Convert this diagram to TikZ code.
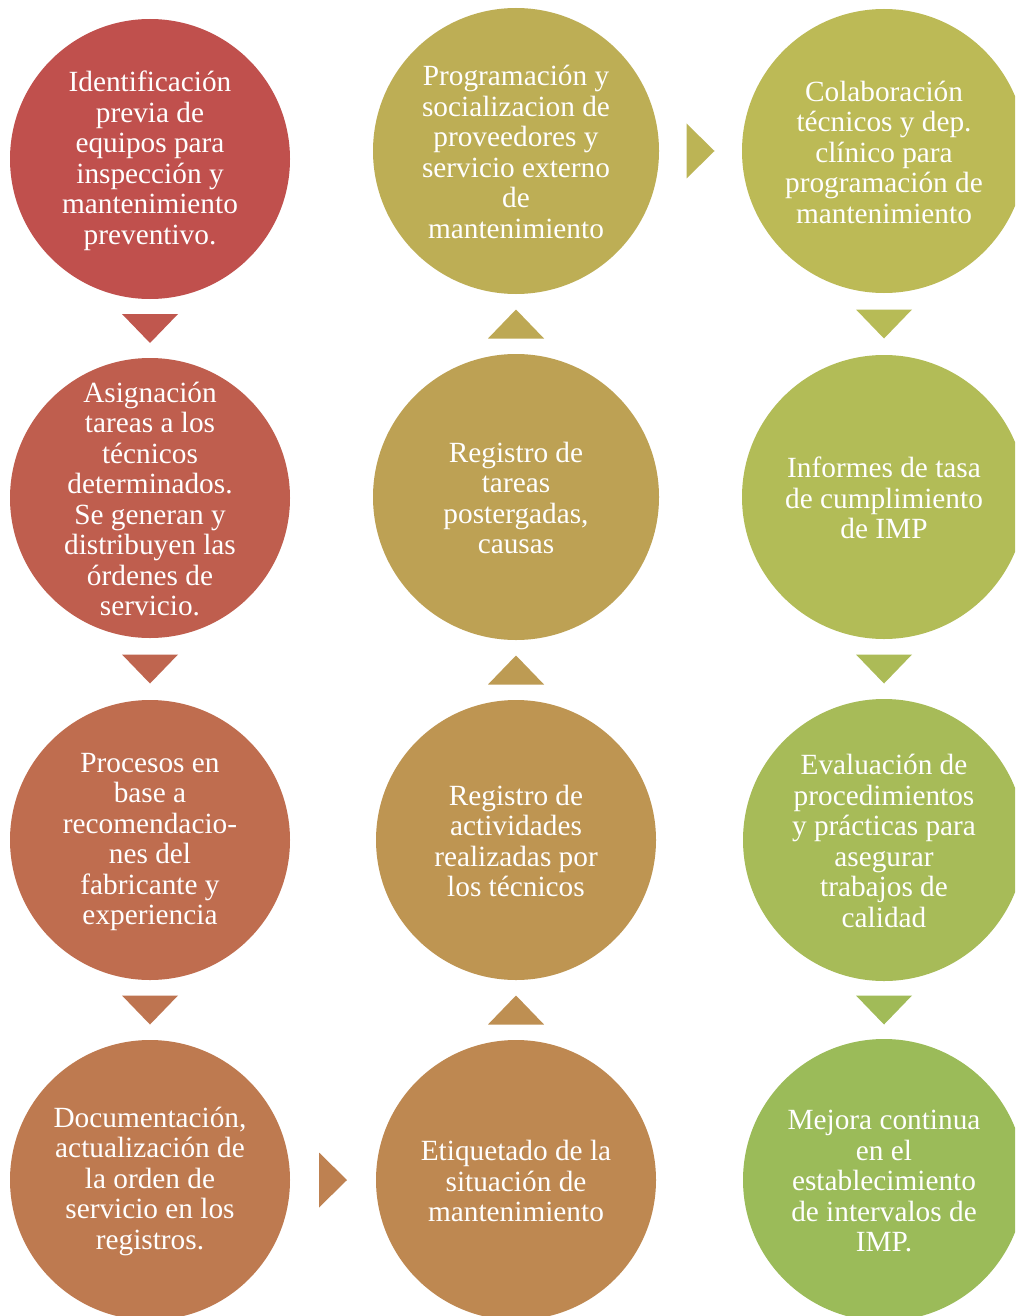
\documentclass[tikz,border=0pt]{standalone}
\usepackage{fontspec}
\setmainfont{Liberation Serif}
\usetikzlibrary{calc}
\definecolor{k0}{HTML}{C0504D}
\definecolor{k1}{HTML}{BF5E4E}
\definecolor{k2}{HTML}{BF6D4F}
\definecolor{k3}{HTML}{BE7A50}
\definecolor{k4}{HTML}{BE8851}
\definecolor{k5}{HTML}{BE9552}
\definecolor{k6}{HTML}{BDA154}
\definecolor{k7}{HTML}{BDAE55}
\definecolor{k8}{HTML}{BCBA56}
\definecolor{k9}{HTML}{B2BC57}
\definecolor{k10}{HTML}{A7BB58}
\definecolor{k11}{HTML}{9BBB59}
\colorlet{m1}{k0!50!k1}
\colorlet{m2}{k1!50!k2}
\colorlet{m3}{k2!50!k3}
\colorlet{m4}{k3!50!k4}
\colorlet{m5}{k4!50!k5}
\colorlet{m6}{k5!50!k6}
\colorlet{m7}{k6!50!k7}
\colorlet{m8}{k7!50!k8}
\colorlet{m9}{k8!50!k9}
\colorlet{m10}{k9!50!k10}
\colorlet{m11}{k10!50!k11}
\tikzset{
  stepc/.style={circle, inner sep=0pt, draw=none},
  steptxt/.style={inner sep=0pt, text=white, align=center,
    font=\fontsize{29.3}{30.5}\selectfont},
}
\newcommand\dtri[2]{\fill[#2] ($(#1)+(-28,-14.5)$) -- ($(#1)+(28,-14.5)$) -- ($(#1)+(0,14.5)$) -- cycle;}
\newcommand\utri[2]{\fill[#2] ($(#1)+(-28,14.5)$) -- ($(#1)+(28,14.5)$) -- ($(#1)+(0,-14.5)$) -- cycle;}
\newcommand\rtri[2]{\fill[#2] ($(#1)+(-14,-27.5)$) -- ($(#1)+(-14,27.5)$) -- ($(#1)+(14,0)$) -- cycle;}
\begin{document}
\begin{tikzpicture}[x=1pt,y=-1pt]
\fill[white] (0,0) rectangle (1015,1316);
\useasboundingbox (0,0) rectangle (1015,1316);
\begin{scope}
\clip (0,0) rectangle (1015,1316);
\node[stepc, minimum size=280pt, fill=k0] (c1) at (150,159) {};
\node[stepc, minimum size=280pt, fill=k1] (c2) at (150,498) {};
\node[stepc, minimum size=280pt, fill=k2] (c3) at (150,840) {};
\node[stepc, minimum size=280pt, fill=k3] (c4) at (150,1180) {};
\node[stepc, minimum size=280pt, fill=k4] (c5) at (516,1180) {};
\node[stepc, minimum size=280pt, fill=k5] (c6) at (516,840) {};
\node[stepc, minimum size=286pt, fill=k6] (c7) at (516,497) {};
\node[stepc, minimum size=286pt, fill=k7] (c8) at (516,151) {};
\node[stepc, minimum size=284pt, fill=k8] (c9) at (884,151) {};
\node[stepc, minimum size=284pt, fill=k9] (c10) at (884,497) {};
\node[stepc, minimum size=282pt, fill=k10] (c11) at (884,840) {};
\node[stepc, minimum size=282pt, fill=k11] (c12) at (884,1180) {};
\end{scope}
\node[steptxt] (t1) at ($(c1)+(0,2)$) {Identificación\\previa de\\equipos para\\inspección y\\mantenimiento\\preventivo.};
\node[steptxt] (t2) at ($(c2)+(0,1)$) {Asignación\\tareas a los\\técnicos\\determinados.\\Se generan y\\distribuyen las\\órdenes de\\servicio.};
\node[steptxt] (t3) at ($(c3)+(0,2)$) {Procesos en\\base a\\recomendacio-\\nes del\\fabricante y\\experiencia};
\node[steptxt] (t4) at ($(c4)+(0,1)$) {Documentación,\\actualización de\\la orden de\\servicio en los\\registros.};
\node[steptxt] (t5) at ($(c5)+(0,1)$) {Etiquetado de la\\situación de\\mantenimiento};
\node[steptxt] (t6) at ($(c6)+(0,1)$) {Registro de\\actividades\\realizadas por\\los técnicos};
\node[steptxt] (t7) at ($(c7)+(0,1)$) {Registro de\\tareas\\postergadas,\\causas};
\node[steptxt] (t8) at ($(c8)+(0,1)$) {Programación y\\socializacion de\\proveedores y\\servicio externo\\de\\mantenimiento};
\node[steptxt] (t9) at ($(c9)+(0,1)$) {Colaboración\\técnicos y dep.\\clínico para\\programación de\\mantenimiento};
\node[steptxt] (t10) at ($(c10)+(0,1)$) {Informes de tasa\\de cumplimiento\\de IMP};
\node[steptxt] (t11) at ($(c11)+(0,1)$) {Evaluación de\\procedimientos\\y prácticas para\\asegurar\\trabajos de\\calidad};
\node[steptxt] (t12) at ($(c12)+(0,1)$) {Mejora continua\\en el\\establecimiento\\de intervalos de\\IMP.};
\coordinate (a1) at ($(c1.south)!0.5!(c2.north)$);
\coordinate (a2) at ($(c2.south)!0.5!(c3.north)$);
\coordinate (a3) at ($(c3.south)!0.5!(c4.north)$);
\coordinate (a4) at ($(c4.east)!0.5!(c5.west)$);
\coordinate (a5) at ($(c5.north)!0.5!(c6.south)$);
\coordinate (a6) at ($(c6.north)!0.5!(c7.south)$);
\coordinate (a7) at ($(c7.north)!0.5!(c8.south)$);
\coordinate (a8) at ($(c8.east)!0.5!(c9.west)$);
\coordinate (a9) at ($(c9.south)!0.5!(c10.north)$);
\coordinate (a10) at ($(c10.south)!0.5!(c11.north)$);
\coordinate (a11) at ($(c11.south)!0.5!(c12.north)$);
\dtri{a1}{m1}
\dtri{a2}{m2}
\dtri{a3}{m3}
\rtri{a4}{m4}
\utri{a5}{m5}
\utri{a6}{m6}
\utri{a7}{m7}
\rtri{a8}{m8}
\dtri{a9}{m9}
\dtri{a10}{m10}
\dtri{a11}{m11}
\end{tikzpicture}
\end{document}
